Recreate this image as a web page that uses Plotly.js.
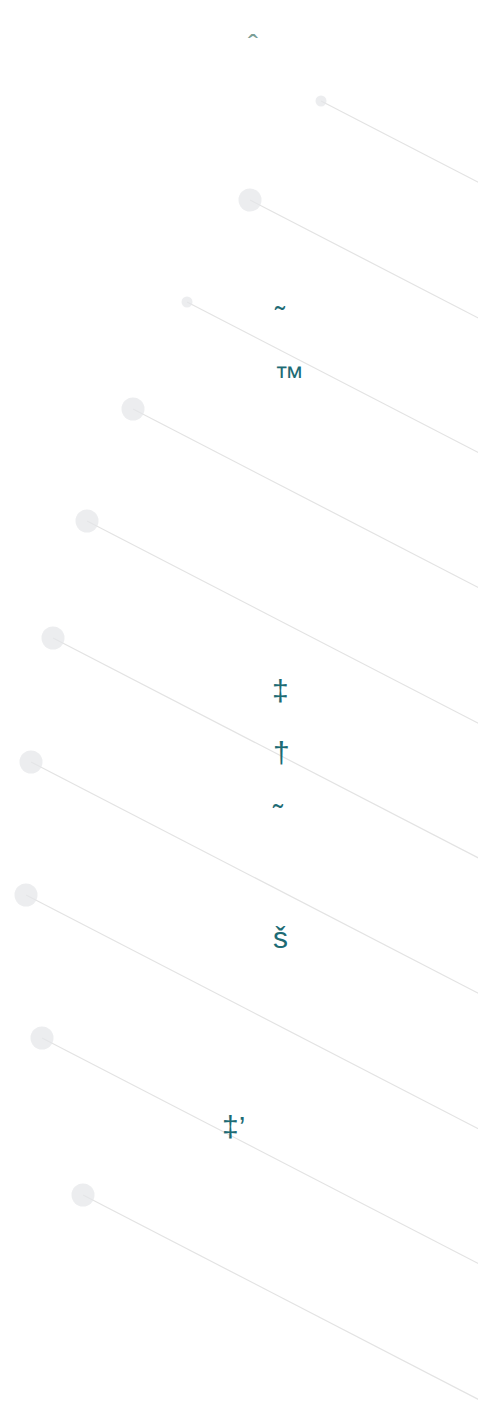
<!DOCTYPE html>
<html>
<head>
<meta charset="utf-8">
<script src="https://cdn.plot.ly/plotly-3.0.1.min.js"></script>
<style>html,body{margin:0;padding:0;background:#fff;}#chart{width:478px;height:1416px;}</style>
</head>
<body>
<div id="chart"></div>
<script>
// Marker positions (plot units = pixels)
const pointX = [321, 250, 187, 133, 87, 53, 31, 26, 42, 83];
const pointY = [101, 200, 302, 409, 521, 638, 762, 895, 1038, 1195];
const pointSize = [11, 23, 11, 23, 23, 23, 23, 23, 23, 23];
const slope = 0.517;          // drop of each connector per unit of x
// Label glyphs
const labelText = ["\u02C6", "\u02DC", "\u2122", "\u2021", "\u2020", "\u02DC", "\u0161", "\u2021\u2019"];
const labelX = [253, 280, 289, 280, 281, 278, 280, 233];
const labelY = [44, 316, 376, 690, 752, 814, 937, 1126];
const labelColor = ["#7a9e96", "#1d6b74", "#1d6b74", "#1d6b74", "#1d6b74", "#1d6b74", "#1d6b74", "#1d6b74"];

const traces = [];
pointX.forEach((x, i) => {
  const x2 = x + 1000;
  traces.push({
    x: [x, x2], y: [pointY[i], pointY[i] + slope * 1000],
    mode: 'lines', line: {color: '#e3e3e3', width: 1.2},
    hoverinfo: 'skip', showlegend: false
  });
});
traces.push({
  x: pointX, y: pointY, mode: 'markers',
  marker: {size: pointSize, color: '#e4e5e8', line: {width: 0}},
  showlegend: false, cliponaxis: false
});

const annotations = labelText.map((t, i) => ({
  x: labelX[i], y: labelY[i], xref: 'x', yref: 'y', text: t, showarrow: false,
  font: {family: 'Liberation Sans', size: 30, color: labelColor[i]},
  xanchor: 'center', yanchor: 'middle'
}));

const layout = {
  width: 478, height: 1416,
  margin: {l: 0, r: 0, t: 0, b: 0},
  paper_bgcolor: '#ffffff', plot_bgcolor: '#ffffff',
  xaxis: {range: [0, 478], visible: false, fixedrange: true},
  yaxis: {range: [1416, 0], visible: false, fixedrange: true},
  annotations: annotations,
  showlegend: false
};
Plotly.newPlot('chart', traces, layout, {displayModeBar: false, staticPlot: true});
</script>
</body>
</html>
